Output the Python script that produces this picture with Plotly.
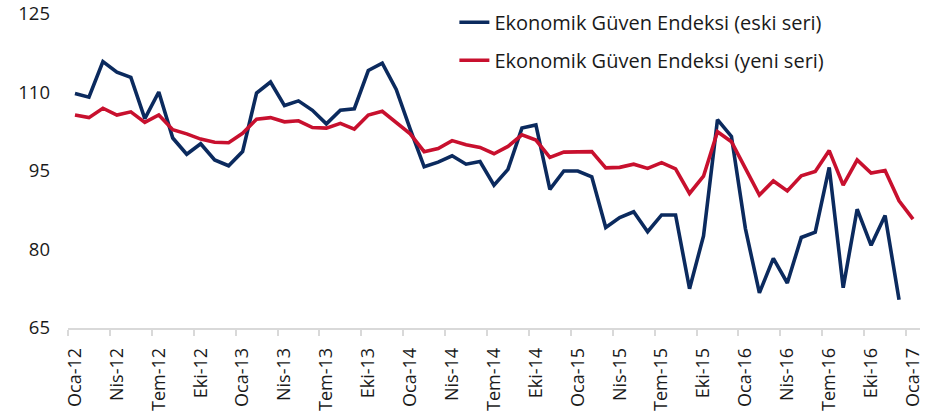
import plotly.graph_objects as go

# ---- data ----
month_names = ["Oca", "Şub", "Mar", "Nis", "May", "Haz", "Tem", "Ağu", "Eyl", "Eki", "Kas", "Ara"]
years = ["12", "13", "14", "15", "16"]
labels = [f"{m}-{y}" for y in years for m in month_names] + ["Oca-17"]

eski_seri = [
    109.8, 109.1, 115.9, 113.9, 112.9, 105.0, 110.1, 101.3, 98.2, 100.2, 97.1, 96.0,
    98.7, 109.9, 112.0, 107.5, 108.4, 106.6, 104.0, 106.6, 106.9, 114.2, 115.6, 110.6,
    103.0, 95.8, 96.7, 97.9, 96.3, 96.8, 92.3, 95.3, 103.2, 103.8, 91.5, 95.0,
    95.0, 93.9, 84.2, 86.1, 87.2, 83.4, 86.6, 86.6, 72.5, 82.6, 104.8, 101.6,
    84.0, 71.7, 78.3, 73.6, 82.3, 83.3, 95.7, 72.7, 87.7, 80.8, 86.5, 70.4,
]
yeni_seri = [
    105.7, 105.2, 107.0, 105.7, 106.3, 104.3, 105.7, 102.9, 102.1, 101.1, 100.5, 100.4,
    102.2, 104.9, 105.2, 104.4, 104.6, 103.3, 103.2, 104.1, 103.0, 105.7, 106.4, 104.3,
    102.1, 98.7, 99.3, 100.8, 100.0, 99.5, 98.3, 99.7, 101.9, 100.9, 97.6, 98.6,
    98.7, 98.7, 95.6, 95.7, 96.3, 95.5, 96.6, 95.4, 90.7, 94.0, 102.5, 100.6,
    95.5, 90.4, 93.1, 91.2, 94.1, 94.9, 98.9, 92.3, 97.1, 94.6, 95.1, 89.3,
    85.8,
]
y_ticks = [65, 80, 95, 110, 125]
label_step = 3

# ---- figure ----
idx = list(range(len(labels)))
tick_idx = idx[::label_step]
boundary_idx = [i - 0.5 for i in tick_idx]

font_family = "Open Sans, Noto Sans, sans-serif"

fig = go.Figure()
fig.add_trace(go.Scatter(
    x=idx[:len(eski_seri)], y=eski_seri, mode="lines",
    name="Ekonomik Güven Endeksi (eski seri)",
    line=dict(color="#0b2a5e", width=3.6),
    text=labels[:len(eski_seri)], hovertemplate="%{text}: %{y}<extra></extra>",
    legendgroup="a",
))
fig.add_trace(go.Scatter(
    x=idx[:len(yeni_seri)], y=yeni_seri, mode="lines",
    name="Ekonomik Güven Endeksi (yeni seri)",
    line=dict(color="#c8102e", width=3.6),
    text=labels[:len(yeni_seri)], hovertemplate="%{text}: %{y}<extra></extra>",
    legendgroup="b",
))

fig.update_layout(
    width=935, height=417,
    margin=dict(l=68.3, r=14.5, t=14.4, b=89.3, autoexpand=False),
    paper_bgcolor="white", plot_bgcolor="white",
    font=dict(family=font_family, size=18, color="#1a1a1a"),
    showlegend=True,
    legend=dict(
        x=0.4535, y=1.036, xanchor="left", yanchor="top",
        font=dict(size=20), tracegroupgap=9,
        bgcolor="rgba(0,0,0,0)",
    ),
    xaxis=dict(
        type="linear", range=[-0.5, len(labels) - 0.5],
        showgrid=False, zeroline=False,
        showline=True, linecolor="#d9d9d9", linewidth=1.5,
        tickmode="array", tickvals=tick_idx, ticktext=labels[::label_step],
        ticks="", tickangle=-90, ticklabelstandoff=11,
        ticklabeloverflow="allow",
        minor=dict(tickmode="array", tickvals=boundary_idx, ticks="outside",
                   ticklen=6, tickwidth=1.5, tickcolor="#d9d9d9", showgrid=False),
        automargin=False,
    ),
    yaxis=dict(
        range=[65, 125], tickmode="array", tickvals=y_ticks,
        showgrid=False, zeroline=False, showline=False,
        ticks="", ticklabelstandoff=17, ticklabeloverflow="allow",
        tickfont=dict(size=18.5),
        automargin=False,
    ),
)

fig.write_html(
    "out.html",
    config={"displayModeBar": False},
    post_script="document.body.style.margin='0';",
)
